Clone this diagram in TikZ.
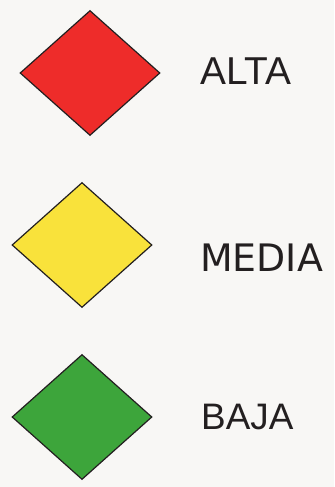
\documentclass[tikz,border=0pt]{standalone}
\usepackage{fontspec}
\setmainfont{Liberation Sans}
\newfontfamily\verdanalike{DejaVu Sans}
\usetikzlibrary{shapes.geometric}
\definecolor{paper}{HTML}{F8F7F5}
\definecolor{ink}{HTML}{231F20}
\definecolor{riskred}{HTML}{EE2C2A}
\definecolor{riskyellow}{HTML}{F9E23B}
\definecolor{riskgreen}{HTML}{3DA53B}
\begin{document}
\begin{tikzpicture}[x=1bp, y=-1bp,
  level/.style={diamond, draw=ink, line width=1.2bp, inner sep=0pt,
    minimum width=140bp, minimum height=125bp},
  levellabel/.style={anchor=west, inner sep=0pt, text=ink,
    font=\fontsize{38}{40}\selectfont}]
\fill[paper] (0,0) rectangle (334,487);
\node[level, fill=riskred] (alta) at (90,73) {};
\node[level, fill=riskyellow] (media) at (82,245) {};
\node[level, fill=riskgreen] (baja) at (82,417) {};
\node[levellabel, font=\fontsize{39}{40}\selectfont] (altatxt) at (200,71.5) {ALTA};
\node[levellabel, font=\verdanalike\fontsize{38}{40}\selectfont] (mediatxt) at (200,258) {MEDIA};
\node[levellabel, font=\fontsize{37}{40}\selectfont] (bajatxt) at (201,416.5) {BAJA};
\end{tikzpicture}
\end{document}
